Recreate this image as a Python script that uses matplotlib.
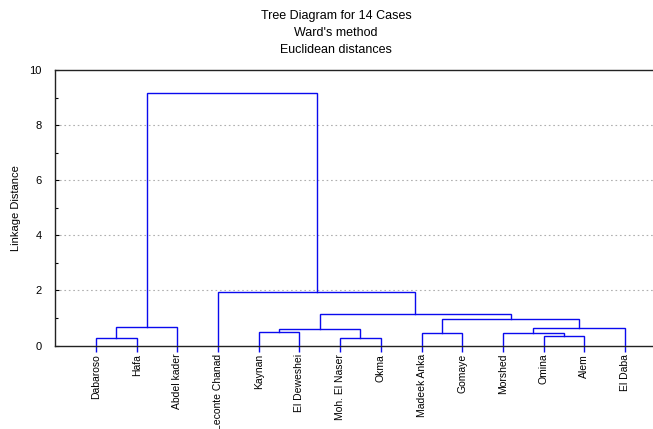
import numpy as np
import matplotlib
matplotlib.use("Agg")
import matplotlib.pyplot as plt

# leaves in dendrogram order
cases = ["Dabaroso", "Hafa", "Abdel kader", "Leconte Chanad", "Kaynan",
         "El Deweshei", "Moh. El Naser", "Okma", "Madeek Anka", "Gomaye",
         "Morshed", "Omina", "Alem", "El Daba"]

# each merge: left child, right child, linkage distance
# (ids 0-13 are cases, 14+ are earlier merges in order)
merge_left = [0, 14, 4, 6, 16, 8, 11, 10, 21, 19, 18, 3, 15]
merge_right = [1, 2, 5, 7, 17, 9, 12, 20, 13, 22, 23, 24, 25]
merge_dist = [0.28, 0.68, 0.50, 0.27, 0.59, 0.47, 0.35, 0.47, 0.62, 0.95, 1.14, 1.93, 9.17]

plt.rcParams['font.family'] = ['Liberation Sans', 'DejaVu Sans']

fig = plt.figure(figsize=(6.53, 4.29), dpi=100)
W, H = 653, 429
x0, x1 = 55.4, 665.6
y0, y1 = 345.5, 70
ax = fig.add_axes([x0 / W, 1 - y0 / H, (x1 - x0) / W, (y0 - y1) / H])

# positions and heights of every node
xpos = {i: float(i) for i in range(len(cases))}
ypos = {i: 0.0 for i in range(len(cases))}
for k, (a, b, d) in enumerate(zip(merge_left, merge_right, merge_dist)):
    node = len(cases) + k
    ax.plot([xpos[a], xpos[a], xpos[b], xpos[b]], [ypos[a], d, d, ypos[b]],
            color='#0a0aee', lw=1.0, solid_joinstyle='miter', zorder=3)
    xpos[node] = (xpos[a] + xpos[b]) / 2
    ypos[node] = d

for yv in [2, 4, 6, 8]:
    ax.axhline(yv, color='#b0b0b0', lw=0.8, ls=(0, (1.5, 2.5)), zorder=1)

ax.set_xlim(-1, 14)
ax.set_ylim(0, 10)
ax.set_yticks([0, 2, 4, 6, 8, 10])
ax.set_yticks([1, 3, 5, 7, 9], minor=True)
ax.tick_params(axis='y', direction='in', length=3, width=0.8, labelsize=8, pad=10)
ax.tick_params(axis='y', which='minor', direction='in', length=2, width=0.8)
ax.set_xticks(range(len(cases)))
ax.set_xticklabels(cases, rotation=90, fontsize=7.5, va='top')
ax.tick_params(axis='x', direction='out', length=4, width=1, color='#0a0aee', pad=2)
ax.spines['right'].set_visible(False)
for s in ['left', 'bottom', 'top']:
    ax.spines[s].set_color('#222222')
    ax.spines[s].set_linewidth(1.0)
ax.set_ylabel("Linkage Distance", fontsize=8, labelpad=6)

fig.text(336 / W, 1 - 16 / H, "Tree Diagram for 14 Cases", ha='center', va='center', fontsize=9)
fig.text(336 / W, 1 - 33 / H, "Ward's method", ha='center', va='center', fontsize=9)
fig.text(336 / W, 1 - 50 / H, "Euclidean distances", ha='center', va='center', fontsize=9)

fig.savefig("out.png", dpi=100)
